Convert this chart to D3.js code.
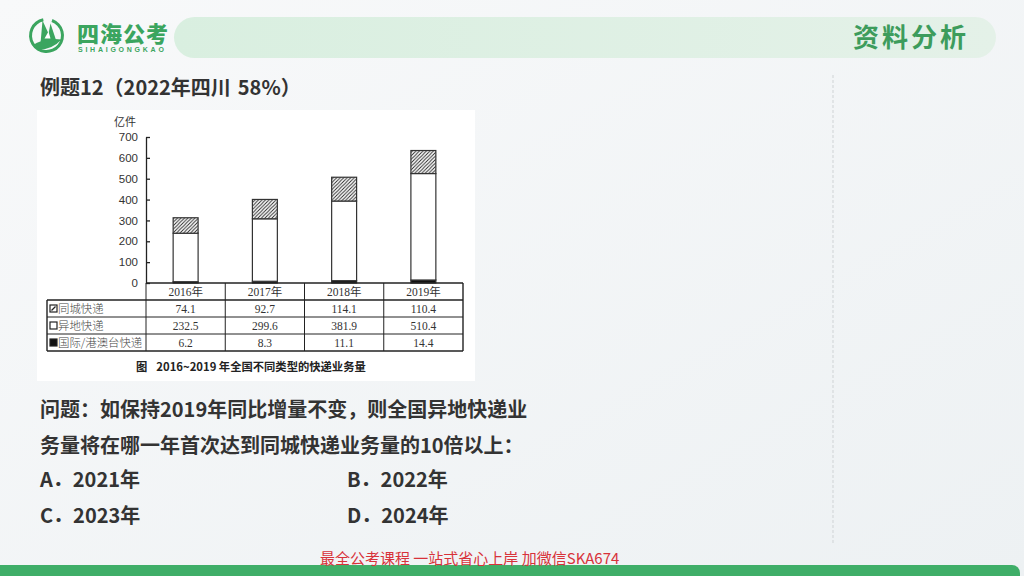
<!DOCTYPE html>
<html lang="zh">

<head>
    <meta charset="UTF-8">
    <title>资料分析</title>
    <style>
        body { margin: 0; overflow: hidden; background: #f4f6f7; }
        svg { display: block; }
    </style>
</head>

<body>
    <svg id="page"></svg>
    <script src="https://cdn.jsdelivr.net/npm/d3@7/dist/d3.min.js"></script>
    <script type="text/javascript">
        // 数据
        const years = ["2016年", "2017年", "2018年", "2019年"];
        const seriesNames = ["同城快递", "异地快递", "国际/港澳台快递"];
        const tongcheng = [74.1, 92.7, 114.1, 110.4];
        const yidi = [232.5, 299.6, 381.9, 510.4];
        const guoji = [6.2, 8.3, 11.1, 14.4];
        const yTicks = [0, 100, 200, 300, 400, 500, 600, 700];

        window.onload = function () {
            drawPage();
        }

        function drawPage() {
            const W = 1024, H = 576;
            const sans = '"Noto Sans CJK SC", "Noto Sans", sans-serif';
            const serif = '"Liberation Serif", "Noto Sans CJK SC", serif';
            const green = '#3ba55f';

            let svg = d3.select('#page').attr('width', W).attr('height', H);
            let defs = svg.append('defs');

            // 背景渐变
            let bg = defs.append('linearGradient').attr('id', 'bgGrad')
                .attr('x1', 0).attr('y1', 0).attr('x2', 1).attr('y2', 1);
            bg.append('stop').attr('offset', '0%').attr('stop-color', '#f8f9fa');
            bg.append('stop').attr('offset', '100%').attr('stop-color', '#edf1f3');

            let pill = defs.append('linearGradient').attr('id', 'pillGrad')
                .attr('x1', 0).attr('y1', 0).attr('x2', 1).attr('y2', 0);
            pill.append('stop').attr('offset', '0%').attr('stop-color', '#d9efe0');
            pill.append('stop').attr('offset', '100%').attr('stop-color', '#e4f1e8');

            // 斜线填充
            let hatch = defs.append('pattern').attr('id', 'hatch')
                .attr('patternUnits', 'userSpaceOnUse').attr('width', 3.5).attr('height', 3.5);
            hatch.append('rect').attr('width', 3.5).attr('height', 3.5).attr('fill', '#fff');
            hatch.append('path').attr('d', 'M-1,1 l2,-2 M0,3.5 l3.5,-3.5 M2.5,4.5 l2,-2')
                .attr('stroke', '#222').attr('stroke-width', 0.9);

            svg.append('rect').attr('width', W).attr('height', H).attr('fill', 'url(#bgGrad)');

            // 页眉
            svg.append('rect').attr('x', 174).attr('y', 17).attr('width', 822).attr('height', 41)
                .attr('rx', 20.5).attr('fill', 'url(#pillGrad)');
            svg.append('text').attr('x', 969).attr('y', 47).attr('text-anchor', 'end')
                .attr('font-family', sans).attr('font-size', 26).attr('font-weight', 700)
                .attr('letter-spacing', 3).attr('fill', '#3d9c5c').text('资料分析');

            // logo
            let logo = svg.append('g').attr('transform', 'translate(46.5,35.5)');
            logo.append('path')
                .attr('d', d3.arc()({ innerRadius: 14.5, outerRadius: 17.5, startAngle: 0.35, endAngle: 2 * Math.PI - 0.2 }))
                .attr('fill', green);
            logo.append('path').attr('d', 'M-6,8 L-4,-15 L2,-2 L4,-12 L10,6 Z').attr('fill', green);
            logo.append('path').attr('d', 'M-14,10 Q-2,2 15,4 Q6,14 -8,14 Z').attr('fill', green);
            logo.append('path').attr('d', 'M-2,3 L2,-4 L4,3 Z').attr('fill', '#fff');
            svg.append('text').attr('x', 77).attr('y', 42)
                .attr('font-family', sans).attr('font-size', 22).attr('font-weight', 900)
                .attr('letter-spacing', 1).attr('fill', green).text('四海公考');
            svg.append('text').attr('x', 78).attr('y', 52)
                .attr('font-family', '"Liberation Sans", sans-serif').attr('font-size', 7).attr('font-weight', 700)
                .attr('letter-spacing', 2.75).attr('fill', green).text('SIHAIGONGKAO');

            // 标题
            let title = svg.append('text').attr('x', 40).attr('y', 95)
                .attr('font-family', sans).attr('font-size', 20).attr('font-weight', 700)
                .attr('fill', '#333');
            title.append('tspan').text('例题12（2022年四川');
            title.append('tspan').attr('dx', 7).text('58%）');

            // 虚线分隔
            svg.append('line').attr('x1', 833).attr('x2', 833).attr('y1', 75).attr('y2', 545)
                .attr('stroke', '#cfd3d5').attr('stroke-width', 1).attr('stroke-dasharray', '3,2');

            // 图片白底
            svg.append('rect').attr('x', 37).attr('y', 110).attr('width', 438).attr('height', 271).attr('fill', '#fff');

            // 比例尺
            let x = d3.scaleBand().domain(years).range([146, 463])
                .paddingInner(0.685).paddingOuter(0.3425);
            let col = d3.scaleBand().domain(years).range([146, 463]);
            let y = d3.scaleLinear().domain([0, 700]).range([283, 137]);

            let chart = svg.append('g');

            // 堆叠
            let table = years.map(function (d, i) {
                return { year: d, guoji: guoji[i], yidi: yidi[i], tongcheng: tongcheng[i] };
            });
            let keys = ['guoji', 'yidi', 'tongcheng'];
            let fills = { guoji: '#111', yidi: '#fff', tongcheng: 'url(#hatch)' };
            let stacked = d3.stack().keys(keys)(table);

            chart.selectAll('g.layer')
                .data(stacked)
                .enter().append('g')
                .attr('class', 'layer')
                .attr('fill', function (d) { return fills[d.key]; })
                .selectAll('rect')
                .data(function (d) { return d; })
                .enter().append('rect')
                .attr('x', function (d) { return x(d.data.year); })
                .attr('width', x.bandwidth())
                .attr('y', function (d) { return y(d[1]); })
                .attr('height', function (d) { return y(d[0]) - y(d[1]); })
                .attr('stroke', '#333')
                .attr('stroke-width', 1.2);

            // y轴
            let yAxis = chart.append('g').attr('transform', 'translate(146,0)')
                .call(d3.axisLeft(y).tickValues(yTicks).tickSizeInner(-4).tickSizeOuter(0).tickPadding(8));
            yAxis.attr('font-family', '"Liberation Sans", Arial, sans-serif').attr('font-size', 11.5);
            yAxis.selectAll('path, line').attr('stroke', '#222').attr('stroke-width', 1.3);
            yAxis.selectAll('text').attr('fill', '#333');

            chart.append('text').attr('x', 125).attr('y', 126).attr('text-anchor', 'middle')
                .attr('font-family', sans).attr('font-size', 11).attr('fill', '#333').text('亿件');

            // 数据表
            const rowH = 17;
            const top = y(0);
            const left = 47;
            let rows = [
                { name: seriesNames[0], values: tongcheng, key: 'tongcheng' },
                { name: seriesNames[1], values: yidi, key: 'yidi' },
                { name: seriesNames[2], values: guoji, key: 'guoji' }
            ];
            let tbl = svg.append('g');
            let fmt = d3.format('.1f');

            tbl.selectAll('text.head').data(years).enter().append('text')
                .attr('class', 'head')
                .attr('x', function (d) { return col(d) + col.bandwidth() / 2; })
                .attr('y', top + rowH / 2 + 4)
                .attr('text-anchor', 'middle')
                .attr('font-family', serif).attr('font-size', 11.5).attr('fill', '#333')
                .text(function (d) { return d; });

            let rowG = tbl.selectAll('g.row').data(rows).enter().append('g')
                .attr('class', 'row')
                .attr('transform', function (d, i) { return 'translate(0,' + (top + rowH * (i + 1)) + ')'; });

            rowG.append('rect').attr('x', 50).attr('y', rowH / 2 - 3.5).attr('width', 7).attr('height', 7)
                .attr('fill', function (d) { return d.key === 'guoji' ? '#111' : '#fff'; })
                .attr('stroke', '#222').attr('stroke-width', 1.2);
            rowG.filter(function (d) { return d.key === 'tongcheng'; }).append('path')
                .attr('d', 'M51.5,' + (rowH / 2 + 2) + ' l4,-4')
                .attr('stroke', '#222').attr('stroke-width', 1.2);
            rowG.append('text').attr('x', 58).attr('y', rowH / 2 + 4.5)
                .attr('font-family', sans).attr('font-size', 11.4).attr('font-weight', 300).attr('fill', '#444')
                .text(function (d) { return d.name; });

            rowG.selectAll('text.val').data(function (d) { return d.values; }).enter().append('text')
                .attr('class', 'val')
                .attr('x', function (d, i) { return col(years[i]) + col.bandwidth() / 2; })
                .attr('y', rowH / 2 + 4)
                .attr('text-anchor', 'middle')
                .attr('font-family', serif).attr('font-size', 11.5).attr('fill', '#333')
                .text(function (d) { return fmt(d); });

            // 表格线
            const bottom = top + rowH * 4;
            let lines = tbl.append('g').attr('stroke', '#222').attr('fill', 'none');
            lines.append('line').attr('x1', 146).attr('x2', 463).attr('y1', top).attr('y2', top).attr('stroke-width', 1.4);
            d3.range(1, 4).forEach(function (i) {
                lines.append('line').attr('x1', left).attr('x2', 463)
                    .attr('y1', top + rowH * i).attr('y2', top + rowH * i).attr('stroke-width', i === 1 ? 1.4 : 1);
            });
            lines.append('line').attr('x1', left).attr('x2', 463).attr('y1', bottom).attr('y2', bottom).attr('stroke-width', 1.4);
            lines.append('line').attr('x1', left).attr('x2', left).attr('y1', top + rowH).attr('y2', bottom).attr('stroke-width', 1.4);
            years.forEach(function (d) {
                lines.append('line').attr('x1', col(d)).attr('x2', col(d)).attr('y1', top).attr('y2', bottom).attr('stroke-width', 1);
            });
            lines.append('line').attr('x1', 463).attr('x2', 463).attr('y1', top).attr('y2', bottom).attr('stroke-width', 1.4);

            // 图注
            let cap = svg.append('text').attr('x', 136).attr('y', 371)
                .attr('font-family', sans).attr('font-size', 11.3).attr('font-weight', 700).attr('fill', '#222');
            cap.append('tspan').text('图');
            cap.append('tspan').attr('dx', 9).text('2016~2019 年全国不同类型的快递业务量');

            // 问题
            let q = svg.append('g').attr('font-family', sans).attr('font-size', 20)
                .attr('font-weight', 700).attr('fill', '#333');
            q.append('text').attr('x', 40).attr('y', 417).text('问题：如保持2019年同比增量不变，则全国异地快递业');
            q.append('text').attr('x', 40).attr('y', 453).text('务量将在哪一年首次达到同城快递业务量的10倍以上：');
            q.append('text').attr('x', 40).attr('y', 487).text('A．2021年');
            q.append('text').attr('x', 347).attr('y', 487).text('B．2022年');
            q.append('text').attr('x', 40).attr('y', 523).text('C．2023年');
            q.append('text').attr('x', 347).attr('y', 523).text('D．2024年');

            // 底部
            svg.append('path').attr('d', 'M0,565 H1012 a8,8 0 0 1 8,8 V576 H0 Z').attr('fill', '#3fae68');
            svg.append('text').attr('x', 320).attr('y', 564)
                .attr('font-family', sans).attr('font-size', 15).attr('fill', '#d8323a')
                .text('最全公考课程 一站式省心上岸 加微信SKA674');
        }
    </script>
</body>

</html>
